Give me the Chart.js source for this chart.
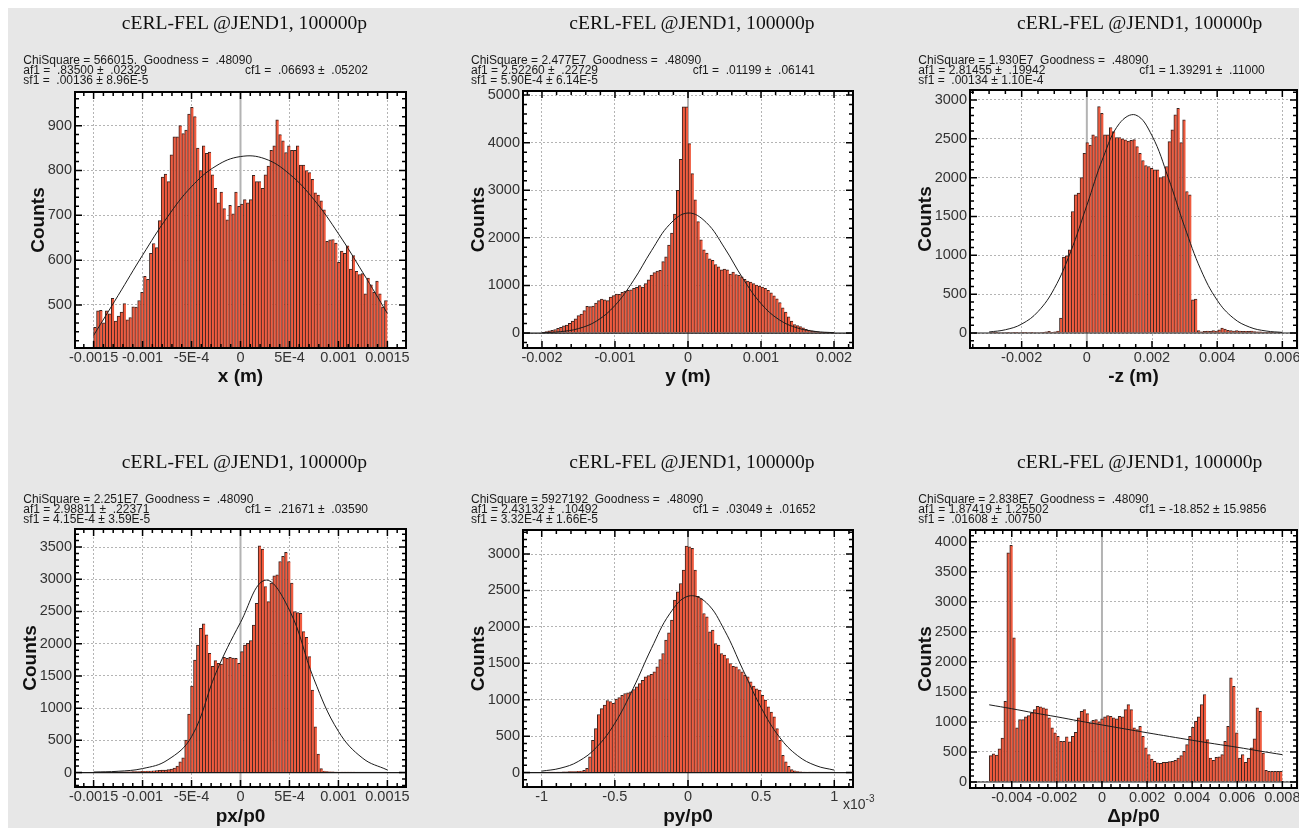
<!DOCTYPE html>
<html>
<head>
<meta charset="utf-8">
<title>cERL-FEL @JEND1 beam histograms</title>
<script src="https://cdn.jsdelivr.net/npm/chart.js@4.4.1/dist/chart.umd.min.js"></script>
<style>
  html, body { margin: 0; padding: 0; background: #fff; }
  body { position: relative; width: 1299px; height: 828px; overflow: hidden;
         font-family: "Liberation Sans", Arial, Helvetica, sans-serif; }
  #sheet { position: absolute; left: 8px; top: 8px; right: 0; bottom: 0; background: #e7e7e7; }
  canvas { position: absolute; }
  .plot-title { position: absolute; font-family: "Liberation Serif", "Times New Roman", serif;
                font-size: 19.6px; line-height: 19.6px; color: #111; white-space: nowrap;
                transform: translateX(-50%); }
  .fit-line { position: absolute; font-size: 12px; line-height: 12px; color: #1a1a1a; white-space: pre; }
  .exp-label { position: absolute; font-size: 14px; line-height: 14px; color: #333; white-space: nowrap; }
  .exp-label sup { font-size: 10px; position: relative; top: -1px; }
</style>
</head>
<body>
<div id="sheet"></div>
<script>
// =============================================================================
// HISTOGRAM DATA - 100 bins per plot
// =============================================================================
const xBinRange = [-0.0015, 0.0015];
const xCounts = [
  450, 487, 488, 460, 487, 480, 515, 464, 475, 484, 503, 467, 472, 496, 495, 510, 528, 564, 557, 615,
  637, 628, 688, 785, 792, 775, 835, 875, 875, 900, 882, 890, 926, 941, 920, 850, 800, 855, 838, 841,
  790, 760, 728, 752, 715, 690, 722, 703, 752, 720, 725, 735, 728, 735, 789, 775, 775, 760, 790, 810,
  845, 855, 913, 880, 866, 840, 855, 845, 845, 855, 812, 812, 800, 795, 780, 750, 745, 732, 712, 642,
  645, 646, 638, 595, 620, 615, 632, 580, 610, 575, 568, 570, 525, 560, 545, 528, 553, 525, 495, 510
];
const xFitX = [-0.0015, -0.00125, -0.001, -0.00075, -0.0005, -0.00025, 0, 0.00025, 0.0005, 0.00075, 0.001, 0.00125, 0.0015];
const xFitY = [432, 521, 611, 695, 764, 810, 831, 826, 792, 735, 659, 572, 481];

const yBinRange = [-0.002, 0.002];
const yCounts = [
  15, 30, 45, 55, 75, 100, 120, 150, 170, 205, 250, 300, 365, 400, 470, 560, 555, 565, 630, 680,
  715, 700, 680, 755, 785, 820, 815, 855, 880, 900, 910, 940, 960, 995, 965, 1040, 1120, 1220, 1270, 1300,
  1320, 1500, 1600, 1850, 2100, 2500, 3000, 3650, 4750, 4750, 3980, 3350, 2800, 2340, 1960, 1750, 1680, 1560, 1530, 1440,
  1390, 1330, 1345, 1330, 1240, 1280, 1230, 1215, 1180, 1130, 1090, 1070, 1040, 1010, 985, 965, 940, 895, 845, 780,
  720, 640, 530, 440, 340, 250, 180, 155, 135, 110, 80, 60, 45, 35, 28, 20, 15, 10, 8, 5
];
const yFitX = [-0.002, -0.00175, -0.0015, -0.00125, -0.001, -0.00075, -0.0005, -0.00025, 0, 0.00025, 0.0005, 0.00075, 0.001, 0.00125, 0.0015, 0.00175, 0.002];
const yFitY = [7, 29, 94, 255, 580, 1097, 1730, 2285, 2522, 2323, 1790, 1152, 619, 278, 106, 33, 8];

const zBinRange = [-0.003, 0.006];
const zCounts = [
  5, 8, 8, 6, 5, 5, 4, 5, 4, 4, 5, 3, 4, 5, 4, 5, 6, 5, 8, 15,
  20, 10, 15, 25, 193, 977, 994, 1071, 1564, 1780, 1800, 2000, 2314, 2451, 2420, 2550, 2530, 2914, 2828, 2550,
  2550, 2644, 2593, 2516, 2516, 2500, 2486, 2470, 2480, 2490, 2400, 2314, 2220, 2156, 2143, 2121, 2100, 2100, 2000, 2014,
  2143, 2464, 2614, 2807, 2893, 2450, 2743, 1821, 1778, 428, 437, 30, 15, 20, 25, 20, 30, 25, 40, 64,
  50, 35, 30, 25, 30, 25, 20, 22, 20, 25, 18, 15, 15, 12, 10, 10, 8, 6, 5, 5
];
const zFitX = [-0.003, -0.0025, -0.002, -0.0015, -0.001, -0.0005, 0, 0.0005, 0.001, 0.0015, 0.002, 0.0025, 0.003, 0.0035, 0.004, 0.0045, 0.005, 0.0055, 0.006];
const zFitY = [13, 42, 115, 275, 572, 1042, 1643, 2258, 2697, 2806, 2539, 1998, 1369, 814, 422, 191, 75, 26, 8];

const pxBinRange = [-0.0015, 0.0015];
const pxCounts = [
  2, 3, 3, 4, 5, 5, 6, 8, 8, 10, 10, 12, 12, 14, 15, 15, 18, 20, 22, 25,
  28, 30, 35, 38, 40, 45, 55, 70, 100, 166, 228, 503, 907, 1343, 1747, 1980, 2240, 2307, 2136, 1851,
  1650, 1737, 1695, 1685, 1789, 1773, 1789, 1778, 1773, 1695, 1876, 1980, 2006, 2050, 2290, 2628, 3520, 3468, 2887, 2654,
  2939, 3053, 3069, 3276, 3354, 3416, 3276, 2939, 2499, 2483, 2473, 2188, 2100, 1799, 1280, 710, 285, 62, 25, 15,
  12, 10, 8, 6, 8, 5, 5, 4, 4, 3, 3, 3, 2, 2, 2, 2, 2, 2, 2, 2
];
const pxFitX = [-0.0015, -0.00125, -0.001, -0.00075, -0.0005, -0.00025, 0, 0.00025, 0.0005, 0.00075, 0.001, 0.00125, 0.0015];
const pxFitY = [8, 20, 62, 190, 556, 1550, 2330, 2985, 2520, 1450, 640, 220, 40];

// py/p0 is plotted in units of 1e-3
const pyBinRange = [-1, 1];
const pyCounts = [
  3, 4, 5, 5, 6, 8, 8, 10, 10, 12, 14, 15, 18, 22, 30, 60, 215, 444, 604, 797,
  879, 925, 990, 975, 950, 1010, 1030, 1060, 1085, 1094, 1108, 1140, 1177, 1222, 1268, 1314, 1330, 1350, 1383, 1451,
  1552, 1635, 1818, 1918, 2092, 2367, 2481, 2596, 2780, 3109, 3100, 3077, 2779, 2420, 2390, 2184, 2138, 1932, 1955, 1772,
  1749, 1635, 1612, 1566, 1497, 1460, 1451, 1415, 1383, 1340, 1314, 1245, 1186, 1150, 1131, 1062, 994, 902, 830, 765,
  604, 444, 238, 147, 87, 41, 23, 12, 9, 8, 6, 5, 5, 4, 4, 3, 3, 2, 2, 2
];
const pyFitX = [-1, -0.875, -0.75, -0.625, -0.5, -0.375, -0.25, -0.125, 0, 0.125, 0.25, 0.375, 0.5, 0.625, 0.75, 0.875, 1];
const pyFitY = [20, 59, 153, 348, 677, 1155, 1704, 2180, 2421, 2333, 1952, 1414, 892, 487, 231, 95, 34];

const dpBinRange = [-0.005, 0.008];
const dpCounts = [
  439, 467, 450, 550, 733, 1344, 3817, 3939, 2400, 900, 1039, 1039, 1083, 1106, 1150, 1206, 1261, 1250, 1233, 1217,
  1067, 900, 817, 761, 678, 678, 750, 667, 761, 828, 1067, 1178, 1206, 1139, 983, 1028, 1039, 1000, 1050, 1083,
  1106, 1094, 1067, 1050, 1094, 1083, 1206, 1289, 1206, 900, 872, 928, 761, 567, 456, 383, 344, 317, 310, 328,
  328, 339, 344, 361, 400, 439, 511, 622, 761, 911, 1011, 1083, 1289, 1456, 706, 400, 361, 411, 417, 456,
  678, 928, 1733, 1594, 817, 400, 456, 328, 400, 567, 717, 1233, 1178, 483, 194, 178, 178, 178, 178, 178
];
const dpFitX = [-0.005, -0.004, -0.003, -0.002, -0.001, 0, 0.001, 0.002, 0.003, 0.004, 0.005, 0.006, 0.007, 0.008];
const dpFitY = [1285, 1220, 1150, 1085, 1015, 950, 885, 820, 757, 695, 635, 578, 515, 455];

// =============================================================================
// AXIS TICKS
// =============================================================================
const mTicks15 = [-0.0015, -0.001, -0.0005, 0, 0.0005, 0.001, 0.0015];
const mLabels15 = ['-0.0015', '-0.001', '-5E-4', '0', '5E-4', '0.001', '0.0015'];
const yTicks = [-0.002, -0.001, 0, 0.001, 0.002];
const yLabels = ['-0.002', '-0.001', '0', '0.001', '0.002'];
const zTicks = [-0.002, 0, 0.002, 0.004, 0.006];
const zLabels = ['-0.002', '0', '0.002', '0.004', '0.006'];
const pyTicks = [-1, -0.5, 0, 0.5, 1];
const pyLabels = ['-1', '-0.5', '0', '0.5', '1'];
const dpTicks = [-0.004, -0.002, 0, 0.002, 0.004, 0.006, 0.008];
const dpLabels = ['-0.004', '-0.002', '0', '0.002', '0.004', '0.006', '0.008'];

const xCountTicks = [500, 600, 700, 800, 900];
const yCountTicks = [0, 1000, 2000, 3000, 4000, 5000];
const zCountTicks = [0, 500, 1000, 1500, 2000, 2500, 3000];
const pxCountTicks = [0, 500, 1000, 1500, 2000, 2500, 3000, 3500];
const pyCountTicks = [0, 500, 1000, 1500, 2000, 2500, 3000];
const dpCountTicks = [0, 500, 1000, 1500, 2000, 2500, 3000, 3500, 4000];

// Gaussian fit results printed above each plot
const plotTitle = 'cERL-FEL @JEND1, 100000p';
const xStats = ['ChiSquare = 566015.  Goodness =  .48090', 'af1 =  .83500 \u00b1  .02329', 'sf1 =  .00136 \u00b1 8.96E-5', 'cf1 =  .06693 \u00b1  .05202'];
const yStats = ['ChiSquare = 2.477E7  Goodness =  .48090', 'af1 = 2.52260 \u00b1  .22729', 'sf1 = 5.90E-4 \u00b1 6.14E-5', 'cf1 =  .01199 \u00b1  .06141'];
const zStats = ['ChiSquare = 1.930E7  Goodness =  .48090', 'af1 = 2.81455 \u00b1  .19942', 'sf1 =  .00134 \u00b1 1.10E-4', 'cf1 = 1.39291 \u00b1  .11000'];
const pxStats = ['ChiSquare = 2.251E7  Goodness =  .48090', 'af1 = 2.98811 \u00b1  .22371', 'sf1 = 4.15E-4 \u00b1 3.59E-5', 'cf1 =  .21671 \u00b1  .03590'];
const pyStats = ['ChiSquare = 5927192  Goodness =  .48090', 'af1 = 2.43132 \u00b1  .10492', 'sf1 = 3.32E-4 \u00b1 1.66E-5', 'cf1 =  .03049 \u00b1  .01652'];
const dpStats = ['ChiSquare = 2.838E7  Goodness =  .48090', 'af1 = 1.87419 \u00b1 1.25502', 'sf1 =  .01608 \u00b1  .00750', 'cf1 = -18.852 \u00b1 15.9856'];

// =============================================================================
// PANEL LAYOUT - canvas box and plot area in page pixels
// =============================================================================
const panels = [
  { box: { x: 8, y: 8, w: 432, h: 432 }, area: { l: 75, t: 92, r: 406, b: 348 },
    counts: xCounts, bins: xBinRange, fitX: xFitX, fitY: xFitY, stats: xStats,
    xMin: -0.00169, xMax: 0.00169, yMin: 404, yMax: 975,
    xTicks: mTicks15, xLabels: mLabels15, yTicks: xCountTicks, xMinor: 1e-4, yMinor: 20,
    xTitle: 'x (m)', countsX: 39, xTitleY: 377, titleX: 244.5, row: 0, statX: 23.3, cfX: 245 },
  { box: { x: 440, y: 8, w: 430, h: 432 }, area: { l: 523, t: 91, r: 853, b: 348 },
    counts: yCounts, bins: yBinRange, fitX: yFitX, fitY: yFitY, stats: yStats,
    xMin: -0.00226, xMax: 0.00226, yMin: -314, yMax: 5085,
    xTicks: yTicks, xLabels: yLabels, yTicks: yCountTicks, xMinor: 2e-4, yMinor: 200,
    xTitle: 'y (m)', countsX: 478.5, xTitleY: 377, titleX: 692, row: 0, statX: 471, cfX: 692.7 },
  { box: { x: 870, y: 8, w: 429, h: 432 }, area: { l: 970, t: 90, r: 1297, b: 348 },
    counts: zCounts, bins: zBinRange, fitX: zFitX, fitY: zFitY, stats: zStats,
    xMin: -0.003586, xMax: 0.00645, yMin: -193, yMax: 3128,
    xTicks: zTicks, xLabels: zLabels, yTicks: zCountTicks, xMinor: 5e-4, yMinor: 100,
    xTitle: '-z (m)', countsX: 925.8, xTitleY: 377, titleX: 1139.7, row: 0, statX: 918.3, cfX: 1139.3 },
  { box: { x: 8, y: 440, w: 432, h: 388 }, area: { l: 75, t: 529, r: 406, b: 787 },
    counts: pxCounts, bins: pxBinRange, fitX: pxFitX, fitY: pxFitY, stats: pxStats,
    xMin: -0.00169, xMax: 0.00169, yMin: -224, yMax: 3780,
    xTicks: mTicks15, xLabels: mLabels15, yTicks: pxCountTicks, xMinor: 1e-4, yMinor: 100,
    xTitle: 'px/p0', countsX: 31, xTitleY: 817, titleX: 244.5, row: 1, statX: 23.3, cfX: 245 },
  { box: { x: 440, y: 440, w: 430, h: 388 }, area: { l: 523, t: 530, r: 853, b: 787 },
    counts: pyCounts, bins: pyBinRange, fitX: pyFitX, fitY: pyFitY, stats: pyStats,
    xMin: -1.128, xMax: 1.128, yMin: -198, yMax: 3330,
    xTicks: pyTicks, xLabels: pyLabels, yTicks: pyCountTicks, xMinor: 0.1, yMinor: 100,
    xTitle: 'py/p0', countsX: 479, xTitleY: 817, titleX: 692, row: 1, statX: 471, cfX: 692.7 },
  { box: { x: 870, y: 440, w: 429, h: 388 }, area: { l: 970, t: 530, r: 1297, b: 788 },
    counts: dpCounts, bins: dpBinRange, fitX: dpFitX, fitY: dpFitY, stats: dpStats,
    xMin: -0.005853, xMax: 0.00865, yMin: -100, yMax: 4195,
    xTicks: dpTicks, xLabels: dpLabels, yTicks: dpCountTicks, xMinor: 4e-4, yMinor: 100,
    xTitle: '\u0394p/p0', countsX: 925.8, xTitleY: 817, titleX: 1139.7, row: 1, statX: 918.3, cfX: 1139.3 }
];

Chart.defaults.font.family = '"Liberation Sans", Arial, Helvetica, sans-serif';
Chart.defaults.color = '#333';

const binCenters = (range, n) => {
  const w = (range[1] - range[0]) / n;
  return Array.from({ length: n }, (_, i) => range[0] + (i + 0.5) * w);
};

// white plot area, zero lines, black frame and inward tick marks
function makeFrame(p) {
  const tickRun = (ctx, scale, step, majors, draw) => {
    const k0 = Math.ceil(scale.min / step - 1e-6);
    const k1 = Math.floor(scale.max / step + 1e-6);
    for (let k = k0; k <= k1; k++) {
      const v = k * step;
      const major = majors.some(m => Math.abs(m - v) < step * 0.05);
      draw(scale.getPixelForValue(v), major ? 7 : 4);
    }
  };
  return {
    id: 'plotFrame',
    beforeDraw(chart) {
      const { ctx, chartArea: a } = chart;
      ctx.save();
      ctx.fillStyle = '#fff';
      ctx.fillRect(a.left, a.top, a.right - a.left, a.bottom - a.top);
      ctx.restore();
    },
    beforeDatasetsDraw(chart) {
      const { ctx, chartArea: a, scales: { x } } = chart;
      const px = x.getPixelForValue(0);
      ctx.save();
      ctx.strokeStyle = '#b3b3b3';
      ctx.lineWidth = 2;
      ctx.beginPath();
      ctx.moveTo(px, a.top);
      ctx.lineTo(px, a.bottom);
      ctx.stroke();
      ctx.restore();
    },
    afterDatasetsDraw(chart) {
      const { ctx, chartArea: a, scales: { y } } = chart;
      if (y.min >= 0) return;
      const py = y.getPixelForValue(0);
      ctx.save();
      ctx.strokeStyle = '#1a1a1a';
      ctx.lineWidth = 1.2;
      ctx.beginPath();
      ctx.moveTo(a.left, py);
      ctx.lineTo(a.right, py);
      ctx.stroke();
      ctx.restore();
    },
    afterDraw(chart) {
      const { ctx, chartArea: a, scales: { x, y } } = chart;
      ctx.save();
      ctx.strokeStyle = '#000';
      ctx.lineWidth = 1.5;
      ctx.beginPath();
      tickRun(ctx, x, p.xMinor, p.xTicks, (px, len) => {
        ctx.moveTo(px, a.bottom); ctx.lineTo(px, a.bottom - len);
        ctx.moveTo(px, a.top); ctx.lineTo(px, a.top + len);
      });
      tickRun(ctx, y, p.yMinor, p.yTicks, (py, len) => {
        ctx.moveTo(a.left, py); ctx.lineTo(a.left + len, py);
        ctx.moveTo(a.right, py); ctx.lineTo(a.right - len, py);
      });
      ctx.stroke();
      ctx.lineWidth = 2;
      ctx.strokeRect(a.left, a.top, a.right - a.left, a.bottom - a.top);
      ctx.restore();
    }
  };
}

function addText(cls, text, left, top) {
  const el = document.createElement('div');
  el.className = cls;
  el.textContent = text;
  el.style.left = left + 'px';
  el.style.top = top + 'px';
  document.body.appendChild(el);
  return el;
}

// =============================================================================
// BUILD THE SIX PANELS
// =============================================================================
panels.forEach(p => {
  const { box: b, area: a } = p;
  const canvas = document.createElement('canvas');
  canvas.width = b.w;
  canvas.height = b.h;
  canvas.style.left = b.x + 'px';
  canvas.style.top = b.y + 'px';
  document.body.appendChild(canvas);

  const centers = binCenters(p.bins, p.counts.length);
  const grid = { color: '#b4b4b4', lineWidth: 1, drawTicks: false, offset: false };
  const border = { display: false, dash: [2, 2] };

  new Chart(canvas, {
    type: 'bar',
    data: {
      datasets: [
        {
          type: 'line',
          data: p.fitX.map((x, i) => ({ x, y: p.fitY[i] })),
          borderColor: '#1c1c1c',
          borderWidth: 1,
          pointRadius: 0,
          tension: 0.4,
          fill: false
        },
        {
          type: 'bar',
          data: centers.map((x, i) => ({ x, y: p.counts[i] })),
          backgroundColor: '#f05b3f',
          borderColor: '#3a2420',
          borderWidth: { top: 1, left: 1, right: 0, bottom: 0 },
          borderSkipped: false,
          barPercentage: 1,
          categoryPercentage: 1
        }
      ]
    },
    options: {
      responsive: false,
      animation: false,
      devicePixelRatio: 1,
      layout: { padding: { left: 0, top: a.t - b.y, right: b.x + b.w - a.r, bottom: 0 } },
      plugins: { legend: { display: false }, tooltip: { enabled: false } },
      scales: {
        x: {
          type: 'linear',
          min: p.xMin,
          max: p.xMax,
          bounds: 'data',
          offset: false,
          grid: grid,
          border: border,
          afterBuildTicks: s => { s.ticks = p.xTicks.map(v => ({ value: v })); },
          afterFit: s => { s.height = b.y + b.h - a.b; s.paddingLeft = 0; s.paddingRight = 0; },
          ticks: {
            autoSkip: false, maxRotation: 0, padding: 1.5,
            font: { size: 14.5 }, color: '#333',
            callback: (v, i) => p.xLabels[i]
          },
          title: {
            display: true, text: p.xTitle, color: '#111',
            font: { size: 19, weight: 'bold', lineHeight: 1 },
            padding: { top: 0, bottom: b.y + b.h - p.xTitleY - 9.5 }
          }
        },
        y: {
          type: 'linear',
          min: p.yMin,
          max: p.yMax,
          beginAtZero: false,
          bounds: 'data',
          grid: grid,
          border: border,
          afterBuildTicks: s => { s.ticks = p.yTicks.map(v => ({ value: v })); },
          afterFit: s => { s.width = a.l - b.x; s.paddingTop = 0; s.paddingBottom = 0; },
          ticks: {
            autoSkip: false, padding: 3,
            font: { size: 14.5 }, color: '#333',
            callback: v => String(v)
          },
          title: {
            display: true, text: 'Counts', color: '#111',
            font: { size: 19, weight: 'bold', lineHeight: 1 },
            padding: { top: p.countsX - b.x - 9.5, bottom: 0 }
          }
        }
      }
    },
    plugins: [makeFrame(p)]
  });

  // header: plot title and fit results
  const dy = p.row * 439;
  addText('plot-title', plotTitle, p.titleX, 29.5 + dy - 16.4);
  addText('fit-line', p.stats[0], p.statX, 64.4 + dy - 10.2);
  addText('fit-line', p.stats[1], p.statX, 74.2 + dy - 10.2);
  addText('fit-line', p.stats[2], p.statX, 84.2 + dy - 10.2);
  addText('fit-line', p.stats[3], p.cfX, 74.2 + dy - 10.2);
});

// exponent note under the py/p0 axis
const expNote = addText('exp-label', 'x10', 843, 793);
const sup = document.createElement('sup');
sup.textContent = '-3';
expNote.appendChild(sup);
</script>
</body>
</html>
